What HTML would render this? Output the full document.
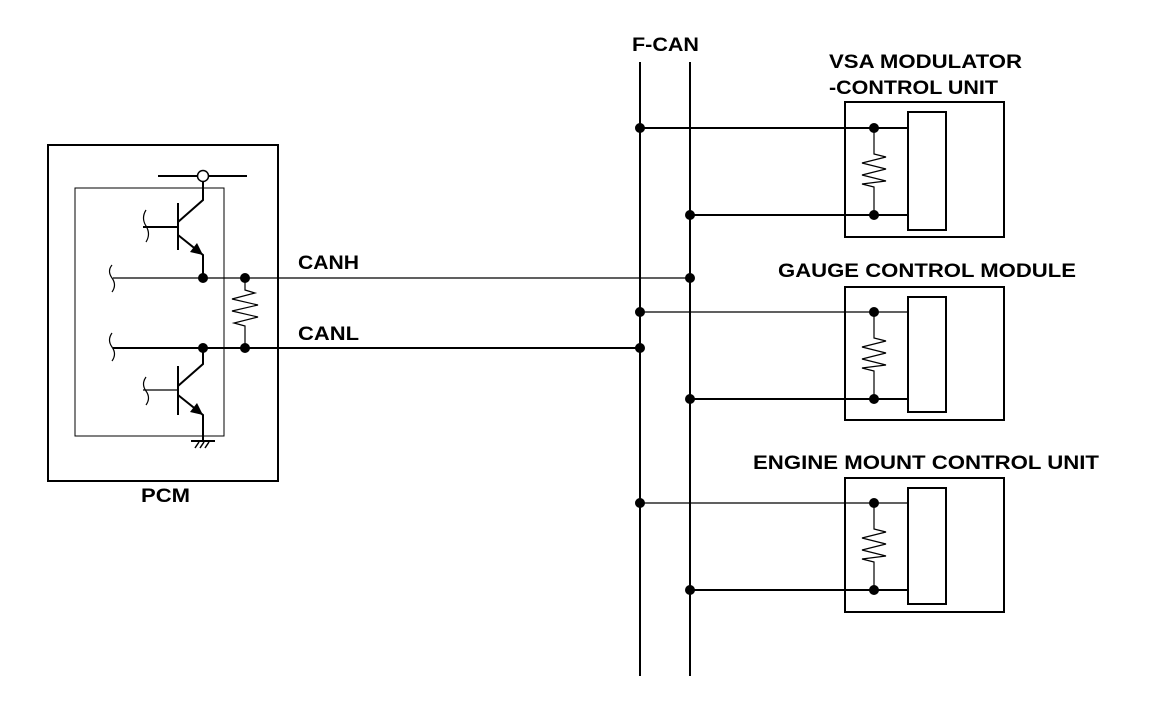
<!DOCTYPE html>
<html><head><style>html,body{margin:0;padding:0;background:#fff}svg{display:block}</style></head>
<body>
<svg width="1152" height="704" viewBox="0 0 1152 704" xmlns="http://www.w3.org/2000/svg" font-family="Liberation Sans, Arial, sans-serif" font-weight="bold" font-size="19">
<g fill="none" stroke="#000">
<rect x="48" y="145" width="230" height="336" stroke-width="2"/>
<rect x="75" y="188" width="149" height="248" stroke-width="1"/>
<line x1="158" y1="176" x2="247" y2="176" stroke-width="2"/>
<circle cx="203" cy="176" r="5.5" fill="#fff" stroke-width="1.5"/>
<line x1="178" y1="203" x2="178" y2="250" stroke-width="2"/>
<line x1="143" y1="227" x2="178" y2="227" stroke-width="2"/>
<path d="M203 182 V200 L178 222" stroke-width="2"/>
<path d="M178 235 L203 255 V278" stroke-width="2"/>
<path d="M146 210 q-5 8 0 16 q5 8 0 16" stroke-width="1.2"/>
<line x1="113" y1="278" x2="690" y2="278" stroke-width="1.2"/>
<path d="M112 265 q-5 6 0 13 q5 7 0 14" stroke-width="1.2"/>
<path d="M245 278 V290 L255 293 L232 299 L258 305 L232 311 L258 317 L234 323 L245 326 V348" stroke-width="1.2"/>
<line x1="113" y1="348" x2="640" y2="348" stroke-width="2"/>
<path d="M112 333 q-5 7 0 14 q5 7 0 14" stroke-width="1.2"/>
<line x1="178" y1="366" x2="178" y2="415" stroke-width="2"/>
<line x1="143" y1="390" x2="178" y2="390" stroke-width="1.2"/>
<path d="M146 377 q-5 7 0 14 q5 7 0 14" stroke-width="1.2"/>
<path d="M203 348 V364 L178 386" stroke-width="2"/>
<path d="M178 395 L203 415 V440" stroke-width="2"/>
<line x1="191" y1="441" x2="215" y2="441" stroke-width="2"/>
<path d="M195 448 l4 -6 M200 448 l4 -6 M205 448 l4 -6" stroke-width="1.5"/>
<line x1="640" y1="62" x2="640" y2="676" stroke-width="2"/>
<line x1="690" y1="62" x2="690" y2="676" stroke-width="2"/>
<g stroke-width="2">
<rect x="845" y="102" width="159" height="135"/>
<rect x="908" y="112" width="38" height="118"/>
<rect x="845" y="287" width="159" height="133"/>
<rect x="908" y="297" width="38" height="115"/>
<rect x="845" y="478" width="159" height="134"/>
<rect x="908" y="488" width="38" height="116"/>
<line x1="640" y1="128" x2="908" y2="128"/>
<line x1="690" y1="215" x2="908" y2="215"/>
<line x1="690" y1="399" x2="908" y2="399"/>
<line x1="690" y1="590" x2="908" y2="590"/>
</g>
<g stroke-width="1.2">
<line x1="640" y1="312" x2="908" y2="312"/>
<line x1="640" y1="503" x2="908" y2="503"/>
<path d="M874 128 V154 L886 157 L862 163 L886 169 L862 175 L886 181 L862 184 L874 187 V215"/>
<path d="M874 312 V338 L886 341 L862 347 L886 353 L862 359 L886 365 L862 368 L874 371 V399"/>
<path d="M874 503 V529 L886 532 L862 538 L886 544 L862 550 L886 556 L862 559 L874 562 V590"/>
</g>
</g>
<g fill="#000">
<circle cx="203" cy="278" r="5"/><circle cx="245" cy="278" r="5"/>
<circle cx="203" cy="348" r="5"/><circle cx="245" cy="348" r="5"/>
<path d="M203 255 L190 252 L197 243 Z"/>
<path d="M203 415 L190 412 L197 403 Z"/>
<circle cx="640" cy="128" r="5"/><circle cx="690" cy="215" r="5"/>
<circle cx="874" cy="128" r="5"/><circle cx="874" cy="215" r="5"/>
<circle cx="690" cy="278" r="5"/><circle cx="640" cy="312" r="5"/><circle cx="640" cy="348" r="5"/>
<circle cx="690" cy="399" r="5"/><circle cx="874" cy="312" r="5"/><circle cx="874" cy="399" r="5"/>
<circle cx="640" cy="503" r="5"/><circle cx="690" cy="590" r="5"/>
<circle cx="874" cy="503" r="5"/><circle cx="874" cy="590" r="5"/>
<text x="298" y="269" textLength="61" lengthAdjust="spacingAndGlyphs">CANH</text>
<text x="298" y="340" textLength="61" lengthAdjust="spacingAndGlyphs">CANL</text>
<text x="141" y="502" textLength="49" lengthAdjust="spacingAndGlyphs">PCM</text>
<text x="632" y="51" textLength="67" lengthAdjust="spacingAndGlyphs">F-CAN</text>
<text x="829" y="68" textLength="193" lengthAdjust="spacingAndGlyphs">VSA MODULATOR</text>
<text x="829" y="94" textLength="169" lengthAdjust="spacingAndGlyphs">-CONTROL UNIT</text>
<text x="778" y="277" textLength="298" lengthAdjust="spacingAndGlyphs">GAUGE CONTROL MODULE</text>
<text x="753" y="469" textLength="346" lengthAdjust="spacingAndGlyphs">ENGINE MOUNT CONTROL UNIT</text>
</g>
</svg>
</body></html>
